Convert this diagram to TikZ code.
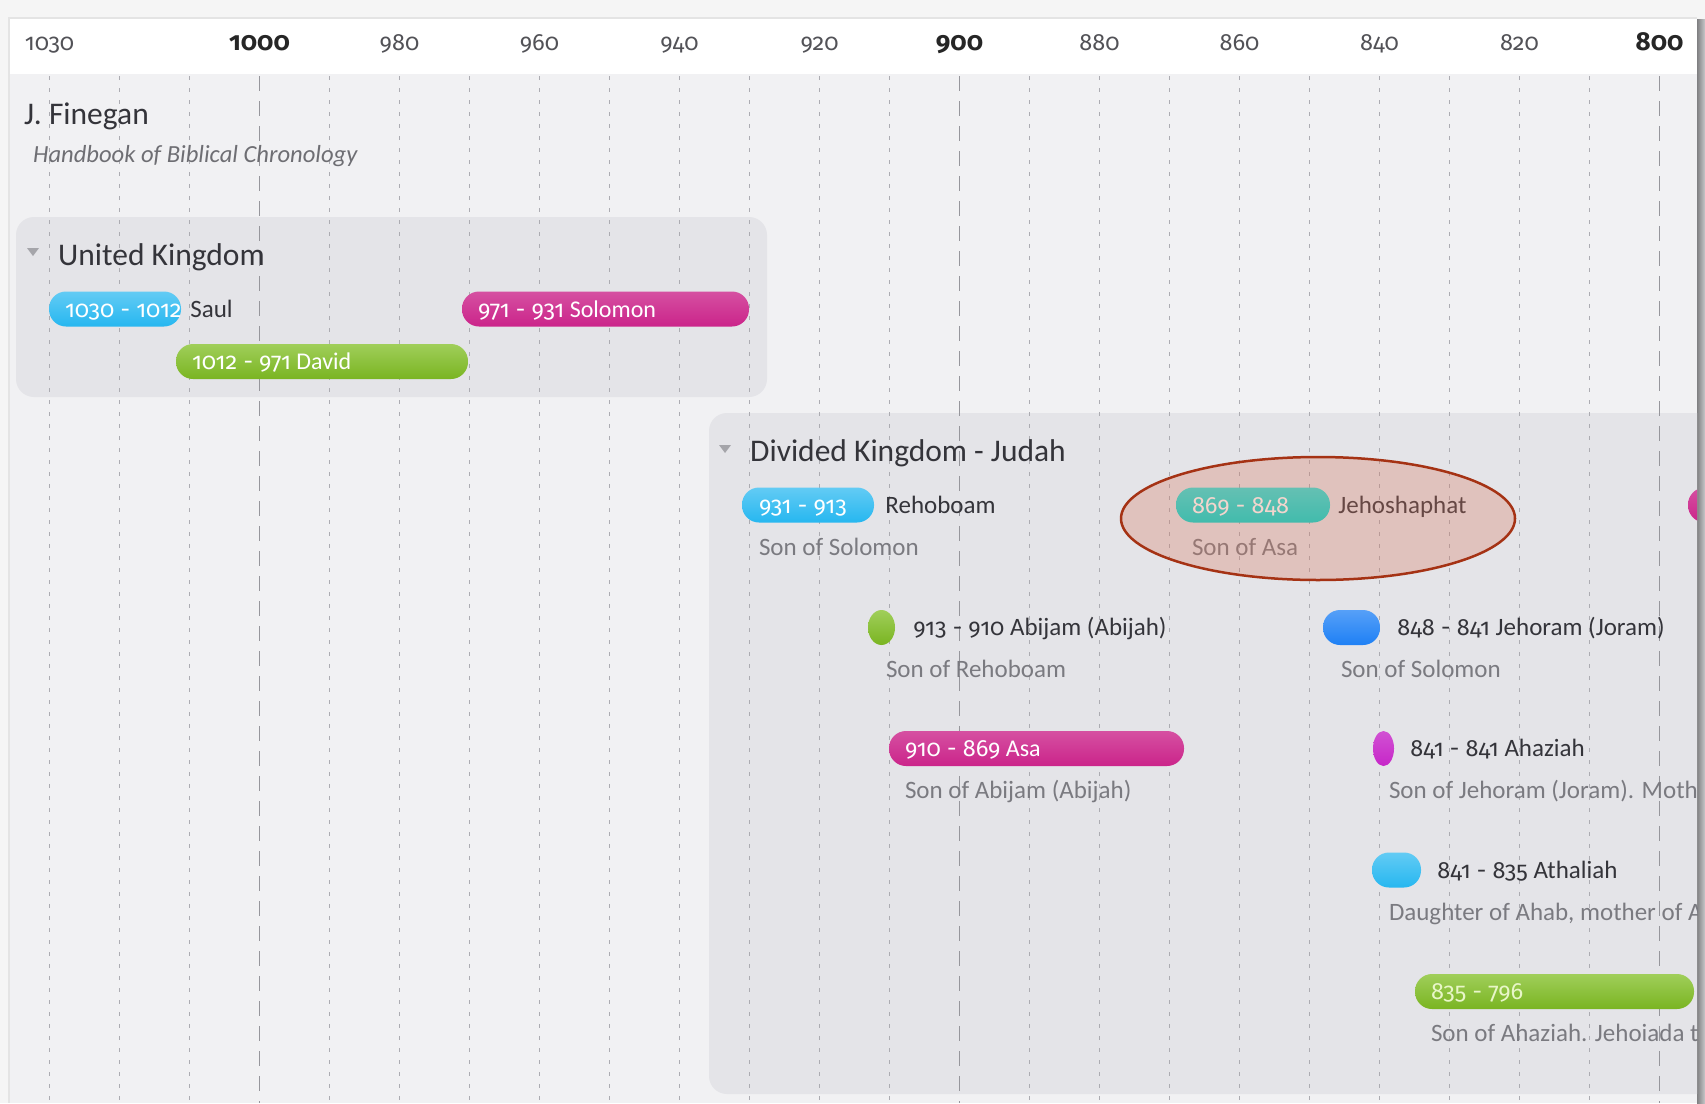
\documentclass[tikz,border=0pt]{standalone}
\usepackage{fontspec}
\setmainfont{Carlito}
\newfontfamily\numf{Fira Sans}[Numbers={OldStyle,Proportional}]
\usetikzlibrary{shapes.geometric}
\definecolor{bgout}{RGB}{245,245,245}
\definecolor{panelline}{RGB}{228,228,228}
\definecolor{bgpanel}{RGB}{241,241,243}
\definecolor{groupbg}{RGB}{228,228,232}
\definecolor{gridc}{RGB}{172,172,178}
\definecolor{gridcent}{RGB}{150,150,156}
\definecolor{cyanK}{RGB}{38,183,240}
\definecolor{greenK}{RGB}{128,190,35}
\definecolor{magK}{RGB}{203,36,138}
\definecolor{blueK}{RGB}{30,128,245}
\definecolor{violetK}{RGB}{198,38,200}
\definecolor{tealK}{RGB}{0,218,208}
\definecolor{txtdark}{RGB}{52,52,58}
\definecolor{txtgray}{RGB}{122,122,128}
\definecolor{trigray}{RGB}{165,165,170}
\definecolor{ovalfill}{RGB}{218,118,92}
\definecolor{ovaldraw}{RGB}{165,50,20}
\definecolor{joashtxt}{RGB}{232,246,200}
\newcommand\fsYr{\fontsize{23.5}{28}\selectfont\numf}
\newcommand\fsYrB{\fontsize{26}{34}\selectfont\numf\bfseries}
\newcommand\fsTitle{\fontsize{31.5}{36}\selectfont}
\newcommand\fsSub{\fontsize{24.6}{28}\selectfont\itshape}
\newcommand\fsItem{\fontsize{25}{30}\selectfont}
\newcommand\fsPill{\fontsize{24}{28}\selectfont}
\newcommand\yrs[1]{{\numf\fontsize{23.5}{28}\selectfont #1}}
\tikzset{
  yrreg/.style={anchor=base, inner sep=0pt, text=txtdark!85, font=\fsYr},
  yrbold/.style={anchor=base, inner sep=0pt, text=black!85, font=\fsYrB},
  gridminor/.style={gridc, line width=1.3pt, dash pattern=on 3.5pt off 8.5pt},
  gridmajor/.style={gridcent, line width=1.3pt, dash pattern=on 15pt off 10pt},
  groupbox/.style={rectangle, fill=groupbg, rounded corners=18pt, inner sep=0pt},
  pill/.style={rectangle, inner sep=0pt, minimum height=35pt, rounded corners=17pt},
  kingdot/.style={ellipse, inner sep=0pt, minimum height=35pt},
  pilltxt/.style={anchor=base west, inner sep=0pt, text=white, font=\fsPill},
  nametxt/.style={anchor=base west, inner sep=0pt, text=txtdark, font=\fsItem},
  desctxt/.style={anchor=base west, inner sep=0pt, text=txtgray, font=\fsItem},
  titletxt/.style={anchor=base west, inner sep=0pt, text=txtdark, font=\fsTitle},
  kcyan/.style={top color=cyanK!72!white, bottom color=cyanK},
  kgreen/.style={top color=greenK!75!white, bottom color=greenK!95!black},
  kmag/.style={top color=magK!80!white, bottom color=magK},
  kblue/.style={top color=blueK!75!white, bottom color=blueK},
  kviolet/.style={top color=violetK!80!white, bottom color=violetK},
  kteal/.style={top color=tealK!80!white, bottom color=tealK},
}
\begin{document}
\begin{tikzpicture}[x=1pt,y=-1pt]
\useasboundingbox (0,0) rectangle (1705,1103);
% page and panel
\fill[bgout] (0,0) rectangle (1705,1103);
\fill[panelline] (8,17) rectangle (1697,1103);
\fill[white] (10,19) rectangle (1697,74);
\fill[bgpanel] (10,74) rectangle (1697,1103);
\shade[left color={rgb,255:red,128;green,128;blue,130}, right color={rgb,255:red,200;green,200;blue,202}] (1697,19) rectangle (1705,1103);

% axis labels
\node[yrreg] (y1030) at (49.5,50) {1030};
\node[yrbold] (y1000) at (259.5,50) {1000};
\node[yrreg] (y980) at (399.5,50) {980};
\node[yrreg] (y960) at (539.5,50) {960};
\node[yrreg] (y940) at (679.5,50) {940};
\node[yrreg] (y920) at (819.5,50) {920};
\node[yrbold] (y900) at (959.5,50) {900};
\node[yrreg] (y880) at (1099.5,50) {880};
\node[yrreg] (y860) at (1239.5,50) {860};
\node[yrreg] (y840) at (1379.5,50) {840};
\node[yrreg] (y820) at (1519.5,50) {820};
\node[yrbold] (y800) at (1659.5,50) {800};

\begin{scope}
\clip (10,74) rectangle (1697,1103);
% group boxes
\node[groupbox, minimum width=751pt, minimum height=180pt] (ukbox) at (391.5,307) {};
\node[groupbox, minimum width=1041pt, minimum height=681pt] (judahbox) at (1229.5,753.5) {};

% grid lines
\foreach \k in {0,1,2,4,5,6,7,8,9,10,11,12,14,15,16,17,18,19,20,21,22}
  \draw[gridminor] (49.5+70*\k,76) -- (49.5+70*\k,1103);
\foreach \k in {3,13,23}
  \draw[gridmajor] (49.5+70*\k,76) -- (49.5+70*\k,1103);

% source
\node[titletxt] (author) at (24,124) {J. Finegan};
\node[anchor=base west, inner sep=0pt, text=txtgray!90!black, font=\fsSub] (book) at (33,162) {Handbook of Biblical Chronology};

% United Kingdom
\fill[trigray] (27,248) -- (39,248) -- (33,256) -- cycle;
\node[titletxt] (uktitle) at (58,265) {United Kingdom};
\node[pill, kcyan, minimum width=132pt] (saul) at (115,309) {};
\node[pilltxt] (saulY) at ([xshift=16pt,yshift=-8pt]saul.west) {\yrs{1030 - 1012}};
\node[nametxt] (saulN) at ([xshift=9pt,yshift=-8pt]saul.east) {Saul};
\node[pill, kgreen, minimum width=292pt] (david) at (322,361.5) {};
\node[pilltxt] (davidY) at ([xshift=16pt,yshift=-8pt]david.west) {\yrs{1012 - 971} David};
\node[pill, kmag, minimum width=287pt] (solomon) at (605.5,309) {};
\node[pilltxt] (solomonY) at ([xshift=16pt,yshift=-8pt]solomon.west) {\yrs{971 - 931} Solomon};

% Divided Kingdom - Judah
\fill[trigray] (719,445) -- (731,445) -- (725,453) -- cycle;
\node[titletxt] (judahtitle) at (750,461) {Divided Kingdom - Judah};

\node[pill, kcyan, minimum width=132pt] (rehoboam) at (808,505) {};
\node[pilltxt] (rehoboamY) at ([xshift=17pt,yshift=-8pt]rehoboam.west) {\yrs{931 - 913}};
\node[nametxt] (rehoboamN) at ([xshift=11pt,yshift=-8pt]rehoboam.east) {Rehoboam};
\node[desctxt] (rehoboamD) at ([xshift=17pt,yshift=-50pt]rehoboam.west) {Son of Solomon};

\node[pill, kteal, minimum width=154pt] (jehoshaphat) at (1253,505) {};
\node[pilltxt] (jehoshaphatY) at ([xshift=16pt,yshift=-8pt]jehoshaphat.west) {\yrs{869 - 848}};
\node[nametxt] (jehoshaphatN) at ([xshift=8pt,yshift=-8pt]jehoshaphat.east) {Jehoshaphat};
\node[desctxt] (jehoshaphatD) at ([xshift=16pt,yshift=-50pt]jehoshaphat.west) {Son of Asa};

\node[pill, kmag, minimum width=200pt] (amaziah) at (1788,505) {};

\node[kingdot, kgreen, minimum width=27pt] (abijam) at (881.5,627.5) {};
\node[nametxt] (abijamN) at ([xshift=18pt,yshift=-8pt]abijam.east) {\yrs{913 - 910} Abijam (Abijah)};
\node[desctxt] (abijamD) at ([xshift=18pt,yshift=-50pt]abijam.west) {Son of Rehoboam};

\node[pill, kblue, minimum width=57pt] (jehoram) at (1351.5,627.5) {};
\node[nametxt] (jehoramN) at ([xshift=17pt,yshift=-8pt]jehoram.east) {\yrs{848 - 841} Jehoram (Joram)};
\node[desctxt] (jehoramD) at ([xshift=18pt,yshift=-50pt]jehoram.west) {Son of Solomon};

\node[pill, kmag, minimum width=295pt] (asa) at (1036.5,748.5) {};
\node[pilltxt] (asaY) at ([xshift=16pt,yshift=-8pt]asa.west) {\yrs{910 - 869} Asa};
\node[desctxt] (asaD) at ([xshift=16pt,yshift=-50pt]asa.west) {Son of Abijam (Abijah)};

\node[kingdot, kviolet, minimum width=21pt] (ahaziah) at (1383.5,748.5) {};
\node[nametxt] (ahaziahN) at ([xshift=16pt,yshift=-8pt]ahaziah.east) {\yrs{841 - 841} Ahaziah};
\node[desctxt] (ahaziahD) at ([xshift=16pt,yshift=-50pt]ahaziah.west) {Son of Jehoram (Joram). Moth};

\node[pill, kcyan, minimum width=49pt] (athaliah) at (1396.5,870) {};
\node[nametxt] (athaliahN) at ([xshift=16pt,yshift=-8pt]athaliah.east) {\yrs{841 - 835} Athaliah};
\node[desctxt] (athaliahD) at ([xshift=17pt,yshift=-50pt]athaliah.west) {Daughter of Ahab, mother of A};

\node[pill, kgreen, minimum width=279pt] (joash) at (1554.5,991.5) {};
\node[pilltxt, text=joashtxt] (joashY) at ([xshift=16pt,yshift=-8pt]joash.west) {\yrs{835 - 796}};
\node[desctxt] (joashD) at ([xshift=16pt,yshift=-50pt]joash.west) {Son of Ahaziah. Jehoiada t};

% highlight
\node[ellipse, draw=ovaldraw, line width=2.5pt, fill=ovalfill, fill opacity=0.3, minimum width=394pt, minimum height=123pt, inner sep=0pt] (highlight) at (1318,518.5) {};
\end{scope}
\end{tikzpicture}
\end{document}
